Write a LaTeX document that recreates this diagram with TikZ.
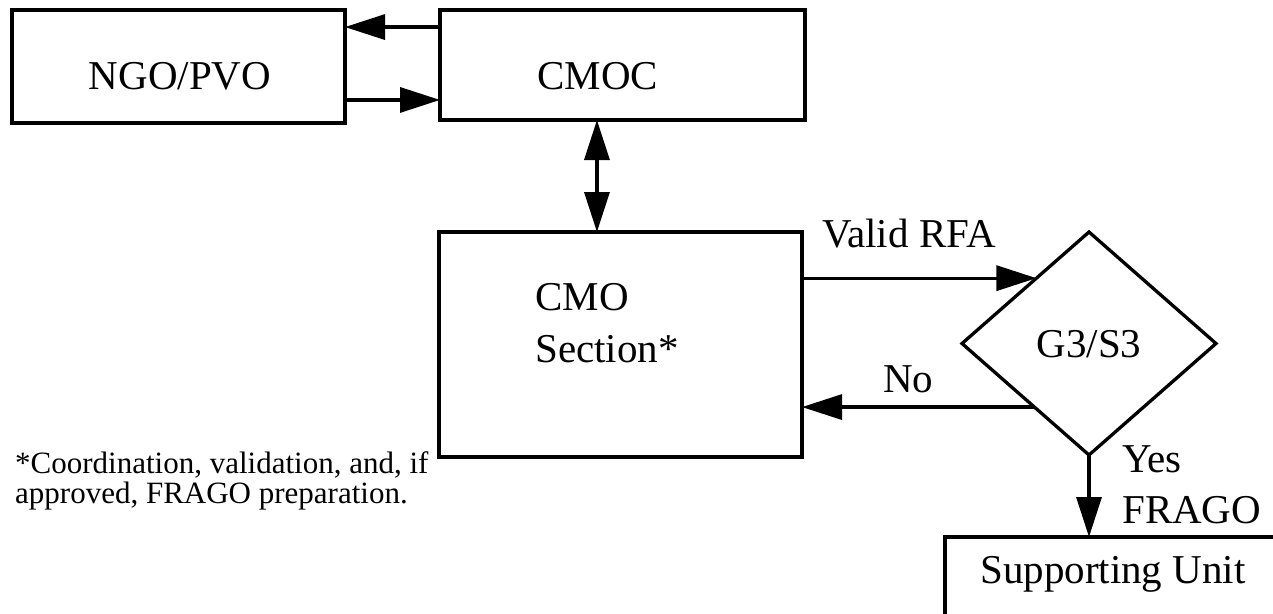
\documentclass[tikz,border=0pt]{standalone}
\usepackage{fontspec}
\setmainfont{Liberation Serif}
\usetikzlibrary{shapes.geometric,arrows.meta,calc}
\begin{document}
\begin{tikzpicture}[x=1pt,y=-1pt,
  box/.style={draw, line width=3.3pt, rectangle, inner sep=0pt, outer sep=0pt},
  lbl/.style={anchor=base west, inner sep=0pt, font=\fontsize{41}{50}\selectfont},
  note/.style={anchor=base west, inner sep=0pt, font=\fontsize{31}{30}\selectfont},
  arr/.style={line width=3.3pt, -{Triangle[length=40pt,width=25pt]}},
  darr/.style={line width=3.3pt, {Triangle[length=40pt,width=25pt]}-{Triangle[length=40pt,width=25pt]}},
]
\useasboundingbox (0,0) rectangle (1273,613);
\clip (0,0) rectangle (1273,613);
% boxes
\node[box, minimum width=333pt, minimum height=113pt] (ngo) at (178.5,66.5) {};
\node[box, minimum width=365pt, minimum height=110pt] (cmoc) at (622.5,65) {};
\node[box, minimum width=363pt, minimum height=225pt] (cmo) at (620.5,344.5) {};
\node[draw, shape=diamond, line width=3.3pt, aspect=1.139, minimum width=254pt, minimum height=223pt,
      inner sep=0pt, outer sep=0pt, font=\fontsize{41}{50}\selectfont, text height=27pt, text depth=0pt]
      (dia) at (1089,343.5) {G3/S3};
\node[box, minimum width=400pt, minimum height=200pt] (su) at (1145,637) {};
% texts
\node[lbl, anchor=base] (ngot) at (180,89) {NGO/PVO};
\node[lbl] (cmoct) at (537,89) {CMOC};
\node[lbl] (cmot) at (535,310) {CMO};
\node[lbl] (sect) at (535,362) {Section*};
\node[lbl] (vt) at (822,247) {Valid RFA};
\node[lbl] (not) at (883,392) {No};
\node[lbl] (yt) at (1122,472) {Yes};
\node[lbl] (ft) at (1122,523) {FRAGO};
\node[lbl] (sut) at (980,583) {Supporting Unit};
\node[note] (fn1) at (15,473) {*Coordination, validation, and, if};
\node[note] (fn2) at (15,503) {approved, FRAGO preparation.};
% connectors
\coordinate (a1) at ($(cmoc.north west)!0.155!(cmoc.south west)$);
\draw[arr] (a1) -- (a1 -| ngo.east);
\coordinate (b1) at ($(ngo.north east)!0.796!(ngo.south east)$);
\draw[arr] (b1) -- (b1 -| cmoc.west);
\coordinate (d1) at ($(cmoc.south west)!0.43!(cmoc.south east)$);
\draw[darr] (d1) -- (d1 |- cmo.north);
\coordinate (va) at ($(dia.west)!0.586!(dia.north)$);
\draw[arr] (va -| cmo.east) -- (va);
\coordinate (nb) at ($(dia.west)!0.57!(dia.south)$);
\draw[arr] (nb) -- (nb -| cmo.east);
\draw[arr] (dia.south) -- (dia.south |- su.north);
\end{tikzpicture}
\end{document}
